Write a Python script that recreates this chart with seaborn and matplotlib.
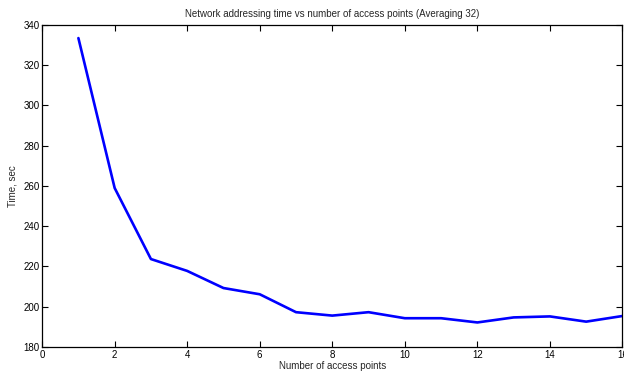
import matplotlib
matplotlib.use('Agg')
from matplotlib import pyplot as plt
import seaborn as sns
import pandas as pd

# Data
access_points = [1, 2, 3, 4, 5, 6, 7, 8, 9, 10, 11, 12, 13, 14, 15, 16]
addressing_time = [333.5, 259.0, 223.7, 217.8, 209.3, 206.2, 197.3, 195.6, 197.3,
                   194.3, 194.3, 192.2, 194.7, 195.2, 192.6, 195.4]

df = pd.DataFrame({'points': access_points, 'time': addressing_time})

sns.set_style('white')
plt.rcParams['font.family'] = ['Liberation Sans', 'DejaVu Sans']

fig = plt.figure(figsize=(6.24, 3.73), dpi=100)
ax = fig.add_axes([0.0675, 0.0697, 0.93, 0.8633])

sns.lineplot(data=df, x='points', y='time', color='#0000ff', linewidth=1.9, ax=ax)

ax.set_xlim(0, 16)
ax.set_ylim(180, 340)
ax.set_xticks(range(0, 17, 2))
ax.set_yticks(range(180, 341, 20))
ax.tick_params(direction='in', length=4, width=0.8, labelsize=7, top=True, right=True,
               bottom=True, left=True, colors='black', pad=2)
for spine in ax.spines.values():
    spine.set_visible(True)
    spine.set_color('black')
    spine.set_linewidth(0.9)

ax.set_xlabel('Number of access points', fontsize=7, labelpad=1)
ax.set_ylabel('Time, sec', fontsize=7, labelpad=4)
ax.set_title('Network addressing time vs number of access points (Averaging 32)', fontsize=7, pad=6)

fig.savefig('out.png', dpi=100)
